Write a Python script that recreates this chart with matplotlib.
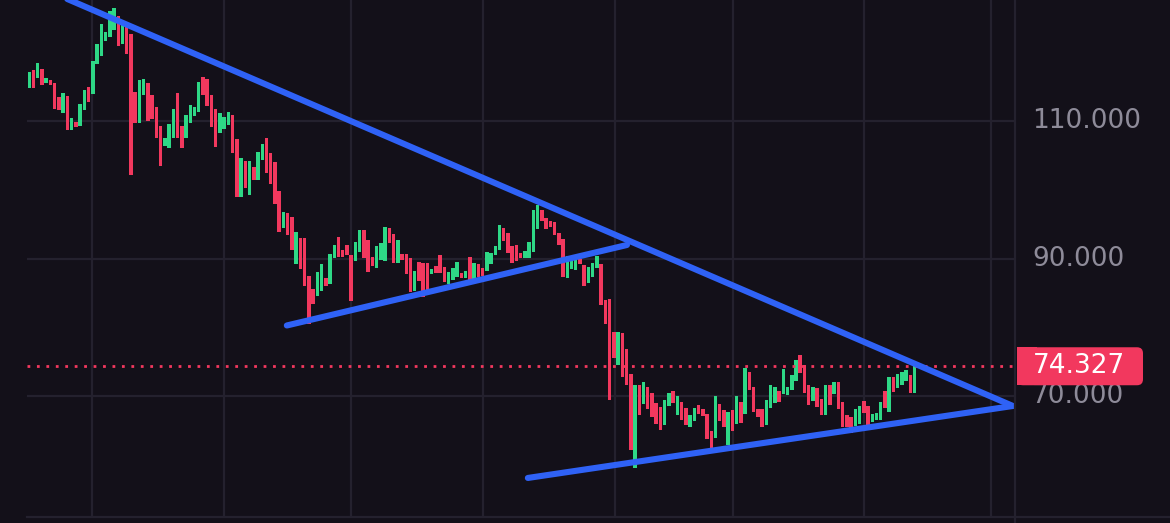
import matplotlib
matplotlib.use("Agg")
import matplotlib.pyplot as plt
from matplotlib.lines import Line2D
from matplotlib.patches import FancyBboxPatch, Rectangle
from matplotlib.transforms import blended_transform_factory

# candle bodies (one per session)
opens = [
    114.88, 117.50, 116.33, 117.65, 115.61, 116.04, 115.61, 113.57, 111.23, 113.71,
    108.76, 109.92, 109.34, 111.67, 115.02, 114.00, 118.37, 119.54, 121.73, 122.31,
    123.33, 125.37, 121.29, 124.06, 122.75, 114.29, 109.78, 113.86, 115.61, 113.86,
    112.11, 109.34, 106.42, 106.13, 107.59, 114.15, 109.34, 107.59, 109.78, 110.80,
    111.38, 116.48, 116.19, 113.86, 111.82, 108.32, 108.90, 109.48, 110.94, 107.44,
    98.99, 104.24, 99.28, 103.36, 101.47, 104.38, 107.59, 105.40, 104.09, 99.87,
    94.48, 96.66, 96.08, 89.23, 93.02, 93.02, 87.48, 85.59, 84.57, 85.29,
    87.19, 86.32, 90.10, 93.16, 91.27, 92.00, 90.54, 89.67, 90.98, 94.18,
    92.73, 90.25, 88.65, 89.81, 89.67, 94.48, 93.60, 89.38, 90.69, 90.69,
    90.10, 85.29, 89.52, 89.38, 89.38, 87.77, 88.94, 90.54, 88.79, 86.32,
    86.90, 87.34, 87.92, 87.19, 90.25, 86.75, 89.23, 88.65, 88.21, 89.23,
    90.54, 91.27, 94.48, 93.75, 91.85, 92.00, 90.83, 90.10, 90.10, 90.98,
    94.33, 97.10, 95.93, 95.50, 95.35, 93.75, 92.87, 87.19, 88.50, 88.36,
    89.96, 89.08, 86.46, 87.34, 88.65, 89.23, 83.98, 84.13, 79.32, 74.51,
    79.18, 76.84, 73.20, 59.50, 71.60, 68.83, 71.31, 70.43, 68.97, 68.39,
    65.77, 68.54, 70.72, 67.23, 69.12, 68.25, 65.48, 66.35, 68.68, 68.10,
    67.37, 64.89, 63.87, 68.83, 67.95, 62.85, 67.95, 65.91, 69.12, 67.37,
    73.49, 71.31, 68.10, 68.10, 65.77, 68.25, 68.97, 70.72, 70.29, 70.14,
    70.87, 72.18, 75.97, 74.51, 71.60, 69.27, 71.16, 69.56, 67.23, 71.60,
    70.29, 72.03, 69.12, 67.23, 66.93, 65.62, 65.91, 69.27, 68.54, 66.21,
    66.50, 66.50, 70.72, 67.66, 72.76, 71.16, 71.60, 72.18, 73.05, 70.43,
]
closes = [
    117.21, 114.88, 118.52, 115.31, 116.33, 115.31, 111.82, 111.67, 114.15, 108.76,
    110.51, 109.19, 112.55, 114.59, 112.84, 118.81, 121.29, 124.20, 123.04, 126.10,
    126.53, 121.00, 124.49, 119.83, 102.20, 109.78, 116.04, 116.19, 110.07, 110.36,
    107.59, 103.51, 107.59, 109.63, 111.82, 107.59, 106.13, 110.94, 112.40, 112.11,
    115.75, 113.86, 112.25, 109.19, 106.28, 111.23, 110.65, 111.38, 105.40, 98.99,
    104.68, 100.30, 104.24, 101.47, 105.55, 106.72, 102.49, 100.89, 97.97, 93.89,
    96.81, 93.46, 91.27, 93.89, 88.50, 86.02, 80.49, 83.40, 88.06, 89.23,
    86.02, 90.69, 92.00, 90.25, 90.25, 90.54, 83.84, 92.44, 94.18, 90.10,
    88.06, 88.94, 91.85, 92.29, 94.62, 92.29, 89.38, 92.73, 89.81, 87.77,
    85.15, 88.21, 86.75, 84.42, 85.29, 88.50, 87.92, 87.92, 86.61, 88.06,
    88.65, 89.52, 87.19, 88.21, 86.75, 89.38, 87.34, 87.48, 90.98, 90.83,
    91.85, 94.91, 92.58, 90.83, 89.38, 89.67, 90.10, 91.12, 92.44, 97.10,
    97.83, 95.50, 94.33, 94.62, 93.46, 92.00, 87.34, 90.40, 90.40, 90.54,
    89.23, 86.02, 88.79, 89.38, 90.40, 83.26, 80.49, 69.41, 75.53, 79.32,
    72.76, 71.60, 62.13, 71.60, 67.23, 72.03, 68.10, 66.93, 65.91, 65.04,
    69.41, 70.43, 68.97, 69.99, 66.50, 65.77, 67.23, 68.25, 67.37, 67.08,
    63.73, 62.27, 69.99, 66.35, 65.48, 67.66, 64.89, 69.99, 66.06, 74.08,
    70.87, 67.66, 66.93, 65.48, 69.41, 71.60, 71.31, 69.12, 73.93, 71.31,
    73.05, 75.24, 73.35, 70.43, 68.68, 71.31, 68.39, 67.23, 71.60, 68.68,
    72.03, 68.10, 65.48, 65.48, 64.60, 68.10, 68.54, 67.52, 65.62, 67.37,
    67.52, 69.12, 68.25, 72.76, 70.58, 73.20, 73.49, 73.78, 70.43, 74.327,
]

# trendlines as (candle index, price) pairs
upper_line = [(-1.4, 130.6), (232.2, 68.54)]
lower_line = [(117.7, 58.05), (232.2, 68.54)]
mid_line = [(60.8, 80.27), (141.1, 92.00)]

price_ticks = [110, 90, 70]
last_price = closes[-1]

BG = "#131019"
GRID = "#24212e"
GREEN = "#2ed886"
RED = "#f2385e"
BLUE = "#2f62f6"
LABEL = "#8e8b99"

W, H = 1170, 523
fig = plt.figure(figsize=(W / 100, H / 100), dpi=100)
fig.patch.set_facecolor(BG)
ax = fig.add_axes([27 / W, 6 / H, (1015 - 27) / W, 517 / H])
ax.set_facecolor(BG)

ax.set_xlim(-0.54, 232.7)
ax.set_ylim(52.36, 127.70)

# grid
for x in [14.8, 46.0, 76.0, 107.1, 138.3, 166.1, 197.0, 227.0]:
    ax.axvline(x, color=GRID, lw=1.6, zorder=0)
for p in price_ticks:
    ax.axhline(p, color=GRID, lw=1.6, zorder=0)

# candles
xs = list(range(len(opens)))
heights = [c - o for o, c in zip(opens, closes)]
colors = [GREEN if c >= o else RED for o, c in zip(opens, closes)]
ax.bar(xs, heights, bottom=opens, width=0.82, color=colors, linewidth=0, zorder=2)

# last price dotted line
ax.axhline(last_price, color=RED, lw=2.0, dashes=(1.0, 2.4), zorder=3)

# trendlines
for line in (upper_line, lower_line, mid_line):
    ax.plot([p[0] for p in line], [p[1] for p in line], color=BLUE, lw=4.4,
            solid_capstyle="round", zorder=4)

ax.set_xticks([])
ax.set_yticks([])
for s in ax.spines.values():
    s.set_visible(False)

# frame lines of the pane
fig.add_artist(Line2D([27 / W, 1], [6 / H, 6 / H], color=GRID, lw=1.6))
fig.add_artist(Line2D([1015 / W, 1015 / W], [0, 1], color=GRID, lw=1.6))

# price scale labels
trans = blended_transform_factory(fig.transFigure, ax.transData)
for p in price_ticks:
    fig.text(1032 / W, p, f"{p:.3f}", transform=trans, color=LABEL,
             fontsize=19, family="DejaVu Sans", va="center", ha="left", zorder=1)

# last price tag
fig.canvas.draw()
_, ypix = ax.transData.transform((0, last_price))
box_h = 38
fig.add_artist(FancyBboxPatch((1017, ypix - box_h / 2), 126, box_h,
                              boxstyle="round,pad=0,rounding_size=6",
                              transform=None, facecolor=RED, edgecolor="none", zorder=5))
fig.add_artist(Rectangle((1017, ypix - box_h / 2), 20, box_h, transform=None,
                         facecolor=RED, edgecolor="none", zorder=5))
fig.text(1079 / W, last_price, f"{last_price:.3f}", transform=trans, color="white",
         fontsize=19, family="DejaVu Sans", va="center", ha="center", zorder=6)

fig.savefig("out.png", dpi=100, facecolor=BG)
